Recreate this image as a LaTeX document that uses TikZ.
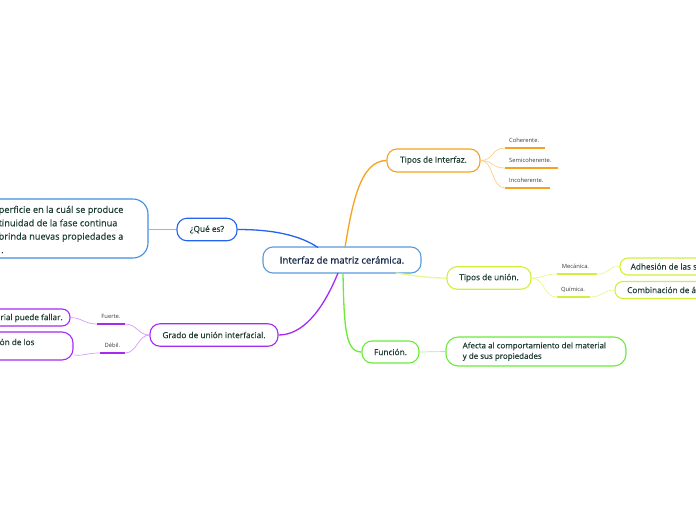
\documentclass[tikz,border=0pt]{standalone}
\usepackage{fontspec}
\setmainfont{Open Sans}[FakeBold=0.35]
\definecolor{cblue}{HTML}{5A9BDA}
\definecolor{qblue}{HTML}{2463EE}
\definecolor{bblue}{HTML}{3C8EE4}
\definecolor{lblue}{HTML}{8DB6F5}
\definecolor{purp}{HTML}{A62AF2}
\definecolor{lpurp}{HTML}{D49CFB}
\definecolor{oran}{HTML}{F6A21E}
\definecolor{loran}{HTML}{FBD08A}
\definecolor{ygr}{HTML}{D2F03A}
\definecolor{lygr}{HTML}{E6F98C}
\definecolor{gre}{HTML}{6AEB3A}
\definecolor{lgre}{HTML}{A9F38C}
\definecolor{txt}{HTML}{1E3D33}
\definecolor{ctxt}{HTML}{1B2B4C}
\definecolor{stxt}{HTML}{3A3A3A}
\tikzset{
  box/.style={draw, line width=1.1pt, fill=white, inner sep=0pt, text=txt,
    font=\fontsize{8.3}{10}\selectfont},
  lfont/.style={inner sep=0pt, text=txt, font=\fontsize{8.2}{10}\selectfont},
  lbl/.style={inner sep=0pt, text=stxt, font=\fontsize{5.8}{7}\selectfont\addfontfeatures{FakeBold=0}},
  main/.style={line width=1.3pt},
  thin/.style={line width=0.7pt},
  und/.style={line width=1.7pt}
}
\begin{document}
\begin{tikzpicture}[x=1pt,y=-1pt]
\useasboundingbox (0,0) rectangle (696,520);
\clip (0,0) rectangle (696,520);

% central
\node[box, draw=cblue, rounded corners=10pt, minimum width=158pt, minimum height=26pt,
  text=ctxt, font=\fontsize{9.6}{11}\selectfont\addfontfeatures{FakeBold=0.9}] (c) at (342,260) {Interfaz de matriz cerámica.};
\coordinate (cb) at (318,247.5);
\coordinate (cp) at (338,273);
\coordinate (co) at (345,247.5);
\coordinate (cy) at (396,273);
\coordinate (cg) at (343,273);

% ¿Qué es?
\node[box, draw=qblue, rounded corners=10pt, minimum width=60pt, minimum height=22.5pt] (que) at (207,229.5) {¿Qué es?};
\node[box, draw=bblue, rounded corners=15pt, minimum width=220pt, minimum height=59pt] (defbox) at (38,228.5) {};
\node[anchor=west, align=left, inner sep=0pt, text=txt, font=\fontsize{9.2}{13.4}\selectfont] (deftext) at (-1.5,229.5)
  {perficie en la cuál se produce\\tinuidad de la fase continua\\brinda nuevas propiedades a\\\hspace{2.5pt}.};
\draw[main, qblue] (cb) .. controls (295,232) and (262,229.5) .. (que.east);
\draw[thin, lblue] (que.west) -- (que.west -| defbox.east);

% Grado de unión interfacial
\node[box, draw=purp, rounded corners=10pt, minimum width=128pt, minimum height=22.5pt] (grado) at (214,335) {Grado de unión interfacial.};
\draw[main, purp] (cp) .. controls (322,312) and (302,335) .. (grado.east);
\node[lbl] (fue) at (111,316.5) {Fuerte.};
\coordinate (fa) at (97,324); \coordinate (fb) at (125,324);
\draw[und, purp] (fa) -- (fb);
\node[lbl] (deb) at (112.5,345.5) {Débil.};
\coordinate (da) at (100,353); \coordinate (db) at (125,353);
\draw[und, purp] (da) -- (db);
\draw[thin, lpurp] (grado.west) .. controls (138,335) and (137,324) .. (fb);
\draw[thin, lpurp] (grado.west) .. controls (138,335) and (137,353) .. (db);
\node[box, draw=purp, rounded corners=8pt, minimum width=120pt, minimum height=17pt] (f1) at (10,317.5) {};
\node[lfont, anchor=west] (f1t) at (0.3,318) {rial puede fallar.};
\node[box, draw=purp, rounded corners=11pt, minimum width=120pt, minimum height=28pt] (d1) at (13,346) {};
\node[lfont, anchor=west] (d1t) at (-0.5,342) {ón de los};
\draw[thin, lpurp] (fa) .. controls (84,324) and (83,318) .. (f1.east);
\draw[thin, lpurp] (da) .. controls (86,353) and (86,356) .. (d1.east |- 0,355);

% Tipos de Interfaz
\node[box, draw=oran, rounded corners=10pt, minimum width=93pt, minimum height=23pt] (tint) at (433.5,160.5) {Tipos de Interfaz.};
\draw[main, oran] (co) .. controls (352,205) and (360,160.5) .. (tint.west);
\coordinate (o1a) at (505,148); \coordinate (o1b) at (545,148);
\coordinate (o2a) at (505,168); \coordinate (o2b) at (558,168);
\coordinate (o3a) at (505,188); \coordinate (o3b) at (550,188);
\draw[und, oran] (o1a) -- (o1b);
\draw[und, oran] (o2a) -- (o2b);
\draw[und, oran] (o3a) -- (o3b);
\node[lbl, anchor=west] (coh) at (509,140.5) {Coherente.};
\node[lbl, anchor=west] (sem) at (509,160.5) {Semicoherente.};
\node[lbl, anchor=west] (inc) at (509,180.5) {Incoherente.};
\draw[thin, loran] (tint.east) .. controls (494,160.5) and (491,148) .. (o1a);
\draw[thin, loran] (tint.east) .. controls (494,160.5) and (491,168) .. (o2a);
\draw[thin, loran] (tint.east) .. controls (494,160.5) and (491,188) .. (o3a);

% Tipos de unión
\node[box, draw=ygr, rounded corners=10pt, minimum width=84pt, minimum height=22.5pt] (tun) at (489,278) {Tipos de unión.};
\draw[main, lygr] (cy) .. controls (415,276) and (430,278) .. (tun.west);
\coordinate (m1a) at (557,274); \coordinate (m1b) at (597,274);
\coordinate (q1a) at (557,297); \coordinate (q1b) at (590,297);
\draw[und, ygr] (m1a) -- (m1b);
\draw[und, ygr] (q1a) -- (q1b);
\node[lbl] (mec) at (575.5,266.5) {Mecánica.};
\node[lbl] (qui) at (573,290) {Química.};
\draw[thin, lygr] (tun.east) .. controls (545,278) and (543,274) .. (m1a);
\draw[thin, lygr] (tun.east) .. controls (545,278) and (543,297) .. (q1a);
\node[box, draw=ygr, rounded corners=8pt, minimum width=140pt, minimum height=17pt] (adh) at (690,266.5) {};
\node[lfont, anchor=west] (adht) at (630.5,266.5) {Adhesión de las s};
\node[box, draw=ygr, rounded corners=8pt, minimum width=150pt, minimum height=17pt] (com) at (690,290) {};
\node[lfont, anchor=west] (comt) at (627,290) {Combinación de á};
\draw[thin, lygr] (m1b) .. controls (610,274) and (607,266.5) .. (adh.west);
\draw[thin, lygr] (q1b) .. controls (603,297) and (603,290) .. (com.west);

% Función
\node[box, draw=gre, rounded corners=10pt, minimum width=57pt, minimum height=22pt] (fun) at (390.5,352) {Función.};
\draw[main, gre] (cg) .. controls (344,330) and (346,352) .. (fun.west);
\node[box, draw=gre, rounded corners=12pt, minimum width=180pt, minimum height=29pt] (afe) at (536,351.5) {};
\node[anchor=west, align=left, inner sep=0pt, text=txt, font=\fontsize{8}{10.5}\selectfont] (afet) at (462.5,351.5)
  {Afecta al comportamiento del material\\ y de sus propiedades};
\draw[thin, lgre] (fun.east) -- (afe.west);
\end{tikzpicture}
\end{document}
